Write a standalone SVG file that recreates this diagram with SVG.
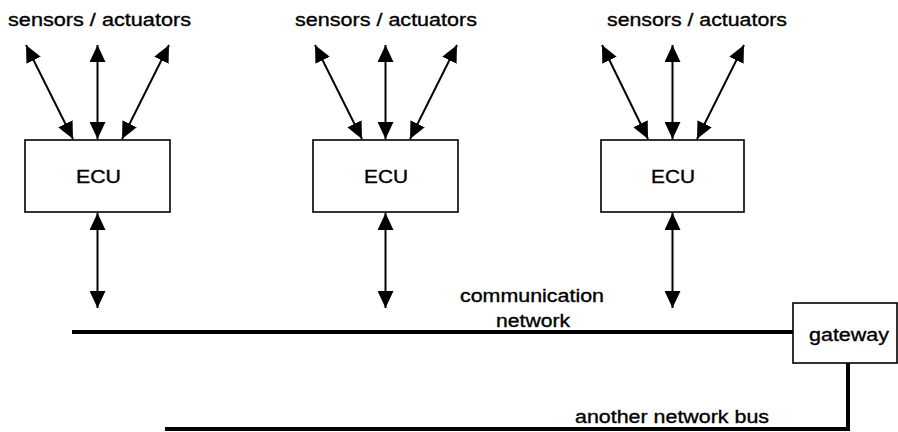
<svg xmlns="http://www.w3.org/2000/svg" width="898" height="432" viewBox="0 0 898 432">
  <style>
    .box { fill: #ffffff; stroke: #000000; stroke-width: 1.6; }
    .lbl { font-family: "Liberation Sans", Arial, Helvetica, sans-serif; font-size: 18.7px; fill: #000000; stroke: #000000; stroke-width: 0.35; }
    .arrow { stroke: #000000; stroke-width: 2; fill: none; marker-start: url(#head); marker-end: url(#head); }
    .bus { stroke: #000000; stroke-width: 4; fill: none; }
  </style>
  <defs>
    <marker id="head" viewBox="0 0 17 16" refX="17" refY="8" markerWidth="17" markerHeight="16" markerUnits="userSpaceOnUse" orient="auto-start-reverse">
      <path d="M0,0 L17,8 L0,16 z" fill="#000000"/>
    </marker>
  </defs>
  <rect width="898" height="432" fill="#ffffff"/>

  <!-- sensor / actuator group labels -->
  <g id="labels-sensors">
    <text class="lbl" x="8" y="26" textLength="183" lengthAdjust="spacingAndGlyphs">sensors / actuators</text>
    <text class="lbl" x="295" y="26" textLength="182" lengthAdjust="spacingAndGlyphs">sensors / actuators</text>
    <text class="lbl" x="607" y="26" textLength="180" lengthAdjust="spacingAndGlyphs">sensors / actuators</text>
  </g>

  <!-- control units -->
  <g id="ecu1">
    <rect class="box" x="25" y="140" width="145" height="72"/>
    <text class="lbl" x="76" y="183" textLength="45" lengthAdjust="spacingAndGlyphs">ECU</text>
  </g>
  <g id="ecu2">
    <rect class="box" x="313" y="140" width="145" height="72"/>
    <text class="lbl" x="364" y="183" textLength="44" lengthAdjust="spacingAndGlyphs">ECU</text>
  </g>
  <g id="ecu3">
    <rect class="box" x="601" y="140" width="143" height="72"/>
    <text class="lbl" x="651" y="183" textLength="44" lengthAdjust="spacingAndGlyphs">ECU</text>
  </g>

  <!-- gateway between the two buses -->
  <g id="gateway">
    <rect class="box" x="793" y="303" width="104" height="60"/>
    <text class="lbl" x="809" y="341" textLength="80" lengthAdjust="spacingAndGlyphs">gateway</text>
  </g>

  <!-- bus labels -->
  <g id="labels-bus">
    <text class="lbl" x="460" y="302" textLength="144" lengthAdjust="spacingAndGlyphs">communication</text>
    <text class="lbl" x="496" y="327" textLength="74" lengthAdjust="spacingAndGlyphs">network</text>
    <text class="lbl" x="575" y="423" textLength="194" lengthAdjust="spacingAndGlyphs">another network bus</text>
  </g>

  <!-- connectors -->
  <g id="connectors">
    <!-- ECU 1 sensor links -->
    <line class="arrow" x1="26" y1="45" x2="73" y2="139"/>
    <line class="arrow" x1="97.5" y1="45" x2="97.5" y2="139"/>
    <line class="arrow" x1="169" y1="45" x2="122" y2="139"/>
    <!-- ECU 2 sensor links -->
    <line class="arrow" x1="315" y1="45" x2="362" y2="139"/>
    <line class="arrow" x1="385.5" y1="45" x2="385.5" y2="139"/>
    <line class="arrow" x1="457" y1="45" x2="410" y2="139"/>
    <!-- ECU 3 sensor links -->
    <line class="arrow" x1="602" y1="45" x2="648" y2="139"/>
    <line class="arrow" x1="672.5" y1="45" x2="672.5" y2="139"/>
    <line class="arrow" x1="744" y1="45" x2="697" y2="139"/>
    <!-- ECU to network links -->
    <line class="arrow" x1="97.5" y1="213" x2="97.5" y2="308"/>
    <line class="arrow" x1="385.5" y1="213" x2="385.5" y2="308"/>
    <line class="arrow" x1="672.5" y1="213" x2="672.5" y2="308"/>
    <!-- communication network bus -->
    <line class="bus" x1="72" y1="332" x2="793" y2="332"/>
    <!-- another network bus -->
    <polyline class="bus" points="165,429 848,429 848,363"/>
  </g>
</svg>
